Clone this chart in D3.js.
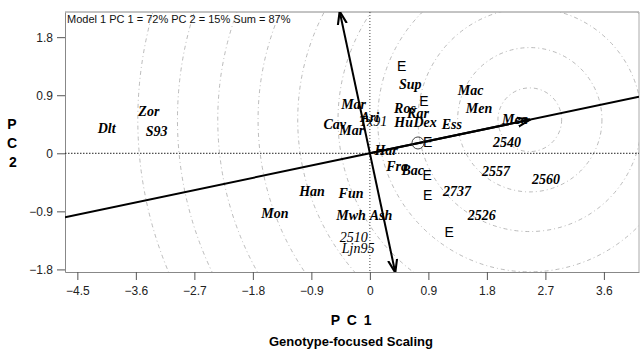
<!DOCTYPE html>
<html>
<head>
<meta charset="utf-8">
<script src="https://cdn.jsdelivr.net/npm/d3@7"></script>
<style>
  body { margin: 0; background: #fff; }
</style>
</head>
<body>
<script>
// genotype scores (PC1, PC2)
const genotypes = ['Zor', 'Dlt', 'S93', 'Mar', 'Ari', 'Tx91', 'Cav', 'Mar', 'Ros', 'Kar', 'Sup', 'Hu', 'Dex', 'Ess',
  'Mac', 'Men', 'Mea', 'Har', 'Fra', 'Bac', 'Han', 'Fun', 'Mon', 'Mwh', 'Ash', '2510', 'Ljn95',
  '2540', '2557', '2560', '2737', '2526']
const genoPC1 = [-3.40, -4.05, -3.28, -0.25, 0.00, 0.05, -0.54, -0.28, 0.54, 0.74, 0.62, 0.52, 0.85, 1.26,
  1.55, 1.68, 2.23, 0.25, 0.42, 0.66, -0.89, -0.29, -1.46, -0.29, 0.17, -0.25, -0.18,
  2.11, 1.94, 2.71, 1.34, 1.72]
const genoPC2 = [0.64, 0.39, 0.33, 0.76, 0.56, 0.49, 0.44, 0.35, 0.70, 0.62, 1.07, 0.47, 0.47, 0.45,
  0.98, 0.69, 0.53, 0.05, -0.21, -0.27, -0.60, -0.62, -0.94, -0.97, -0.97, -1.31, -1.47,
  0.16, -0.29, -0.41, -0.60, -0.97]
const lightGenos = ['Tx91', '2510', 'Ljn95']

// environment scores
const envPC1 = [0.49, 0.83, 0.89, 0.88, 0.89, 1.22]
const envPC2 = [1.35, 0.81, 0.18, -0.34, -0.65, -1.22]

const meanEnv = [0.74, 0.16]
const idealPoint = [2.46, 0.52]
const ringRadii = [0.49, 1.11, 1.72, 2.34, 2.95, 3.57, 4.18, 4.80, 5.42, 6.03]

const xTicks = [-4.5, -3.6, -2.7, -1.8, -0.9, 0, 0.9, 1.8, 2.7, 3.6]
const yTicks = [-1.8, -0.9, 0, 0.9, 1.8]
const xDomain = [-4.69, 4.14]
const yDomain = [-1.84, 2.19]

const outerWidth = 640
const outerHeight = 352
const margin = { left: 65, top: 12, right: 1, bottom: 80 }
const innerWidth = outerWidth - margin.left - margin.right
const innerHeight = outerHeight - margin.top - margin.bottom

const sans = 'Liberation Sans, Arial, sans-serif'
const serif = 'Liberation Serif, Times New Roman, serif'

const svg = d3.select('body').append('svg')
  .attr('width', outerWidth)
  .attr('height', outerHeight)

const defs = svg.append('defs')
defs.append('clipPath').attr('id', 'plot')
  .append('rect').attr('width', innerWidth).attr('height', innerHeight)
defs.append('marker')
  .attr('id', 'arrow')
  .attr('viewBox', '0 0 10 10')
  .attr('refX', 9.5).attr('refY', 5)
  .attr('markerUnits', 'userSpaceOnUse')
  .attr('markerWidth', 13).attr('markerHeight', 13)
  .attr('orient', 'auto')
  .append('path')
  .attr('d', 'M0,1.5L10,5L0,8.5')
  .attr('fill', 'none')
  .attr('stroke', '#000')
  .attr('stroke-width', 1.6)

const g = svg.append('g')
  .attr('transform', 'translate(' + margin.left + ',' + margin.top + ')')

const x = d3.scaleLinear().domain(xDomain).range([0, innerWidth])
const y = d3.scaleLinear().domain(yDomain).range([innerHeight, 0])

// axes
g.append('g')
  .attr('transform', 'translate(0,' + innerHeight + ')')
  .call(d3.axisBottom(x).tickValues(xTicks).tickFormat(d3.format('')).tickSize(8).tickSizeOuter(0).tickPadding(6))
  .call(a => a.select('.domain').attr('stroke', '#888'))
  .call(a => a.selectAll('.tick line').attr('stroke', '#555'))
  .call(a => a.selectAll('.tick text').attr('font-size', 12).attr('font-family', sans).attr('fill', '#222'))

g.append('g')
  .call(d3.axisLeft(y).tickValues(yTicks).tickFormat(d3.format('')).tickSize(8).tickSizeOuter(0).tickPadding(4))
  .call(a => a.select('.domain').attr('stroke', '#888'))
  .call(a => a.selectAll('.tick line').attr('stroke', '#555'))
  .call(a => a.selectAll('.tick text').attr('font-size', 12).attr('font-family', sans).attr('fill', '#222'))

// top and right frame
g.append('line').attr('x1', 0).attr('x2', innerWidth).attr('y1', 0).attr('y2', 0).attr('stroke', '#888')
g.append('line').attr('x1', innerWidth).attr('x2', innerWidth).attr('y1', 0).attr('y2', innerHeight).attr('stroke', '#aaa')

const plot = g.append('g').attr('clip-path', 'url(#plot)')

// concentric rings around the ideal genotype
plot.selectAll('circle.ring')
  .data(ringRadii)
  .enter().append('circle')
  .attr('class', 'ring')
  .attr('cx', x(idealPoint[0]))
  .attr('cy', y(idealPoint[1]))
  .attr('r', d => x(d) - x(0))
  .attr('fill', 'none')
  .attr('stroke', '#aaa')
  .attr('stroke-width', 0.8)
  .attr('stroke-dasharray', '4,3,1,3')

// zero lines
plot.append('line')
  .attr('x1', 0).attr('x2', innerWidth).attr('y1', y(0)).attr('y2', y(0))
  .attr('stroke', '#222').attr('stroke-dasharray', '1.5,1.5')
plot.append('line')
  .attr('x1', x(0)).attr('x2', x(0)).attr('y1', 0).attr('y2', innerHeight)
  .attr('stroke', '#444').attr('stroke-dasharray', '1,2')

// AEC abscissa and ordinate
const slope = idealPoint[1] / idealPoint[0]
plot.append('line')
  .attr('x1', x(xDomain[0])).attr('y1', y(slope * xDomain[0]))
  .attr('x2', x(xDomain[1])).attr('y2', y(slope * xDomain[1]))
  .attr('stroke', '#000').attr('stroke-width', 2)
plot.append('line')
  .attr('x1', x(0)).attr('y1', y(0))
  .attr('x2', x(idealPoint[0])).attr('y2', y(idealPoint[1]))
  .attr('stroke', '#000').attr('stroke-width', 2)
  .attr('marker-end', 'url(#arrow)')

yDomain.forEach(v => {
  plot.append('line')
    .attr('x1', x(0)).attr('y1', y(0))
    .attr('x2', x(-slope * v)).attr('y2', y(v))
    .attr('stroke', '#000').attr('stroke-width', 2)
    .attr('marker-end', 'url(#arrow)')
})

// average environment
plot.append('circle')
  .attr('cx', x(meanEnv[0])).attr('cy', y(meanEnv[1]))
  .attr('r', 6)
  .attr('fill', 'none').attr('stroke', '#333').attr('stroke-width', 0.9)

const labels = g.append('g')

// genotype labels
labels.selectAll('text.geno')
  .data(genotypes)
  .enter().append('text')
  .attr('class', 'geno')
  .attr('x', (d, i) => x(genoPC1[i]))
  .attr('y', (d, i) => y(genoPC2[i]))
  .attr('dy', '0.32em')
  .attr('text-anchor', 'middle')
  .attr('font-family', serif)
  .attr('font-style', 'italic')
  .attr('font-weight', d => lightGenos.includes(d) ? 'normal' : 'bold')
  .attr('font-size', 14)
  .attr('fill', '#000')
  .text(d => d)

// environment labels
labels.selectAll('text.env')
  .data(envPC1)
  .enter().append('text')
  .attr('class', 'env')
  .attr('x', (d, i) => x(envPC1[i]))
  .attr('y', (d, i) => y(envPC2[i]))
  .attr('dy', '0.36em')
  .attr('text-anchor', 'middle')
  .attr('font-family', sans)
  .attr('font-size', 14)
  .attr('fill', '#000')
  .text('E')

// header text
g.append('text')
  .attr('x', 2).attr('y', 11)
  .attr('font-family', sans).attr('font-size', 11).attr('fill', '#111')
  .text('Model 1 PC 1 = 72% PC 2 = 15% Sum = 87%')

// axis titles
svg.append('text')
  .attr('x', 352).attr('y', 325)
  .attr('text-anchor', 'middle')
  .attr('font-family', sans).attr('font-weight', 'bold').attr('font-size', 14)
  .attr('letter-spacing', 1.5)
  .text('P C 1')

const yTitle = svg.append('text')
  .attr('font-family', sans).attr('font-weight', 'bold').attr('font-size', 14)
  .attr('text-anchor', 'middle')
yTitle.selectAll('tspan')
  .data(['P', 'C', '2'])
  .enter().append('tspan')
  .attr('x', (d, i) => i === 2 ? 13 : 12)
  .attr('y', (d, i) => 129 + i * 19)
  .text(d => d)

svg.append('text')
  .attr('x', 351).attr('y', 346)
  .attr('text-anchor', 'middle')
  .attr('font-family', sans).attr('font-weight', 'bold').attr('font-size', 13)
  .text('Genotype-focused Scaling')
</script>
</body>
</html>
